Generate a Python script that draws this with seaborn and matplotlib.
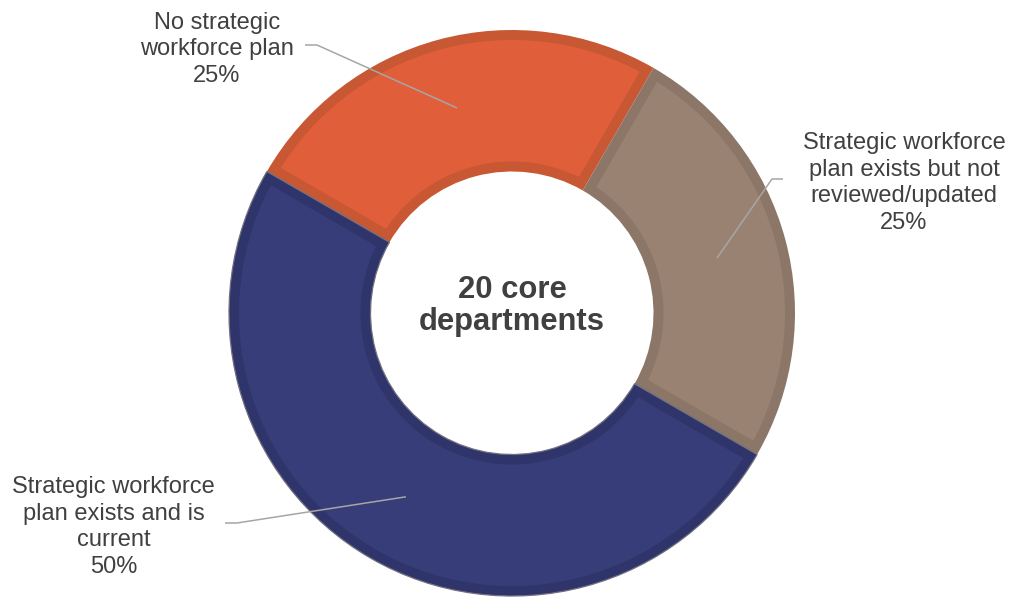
import numpy as np
import matplotlib
matplotlib.use("Agg")
import matplotlib.pyplot as plt
from matplotlib.patches import Polygon
import seaborn as sns

# ---- data ----
categories = ["No strategic\nworkforce plan",
              "Strategic workforce\nplan exists but not\nreviewed/updated",
              "Strategic workforce\nplan exists and is\ncurrent"]
shares = [25, 25, 50]
center_label = "20 core\ndepartments"

fill_colors = ["#E05E3A", "#9A8272", "#373D79"]
edge_colors = ["#C85734", "#8B7667", "#2F346A"]

sns.set_theme(style="white")
plt.rcParams['font.family'] = ['Liberation Sans', 'DejaVu Sans']

W, H = 1015, 599
fig = plt.figure(figsize=(W / 100, H / 100), dpi=100)
ax = fig.add_axes([0, 0, 1, 1])

R = 283
cx, cy = 512, H - 313
wedges, _ = ax.pie(shares, colors=edge_colors, startangle=150, counterclock=False,
                   radius=R, center=(cx, cy),
                   wedgeprops=dict(width=R * 0.5, linewidth=0))
wedges[2].set_edgecolor("#70707f")
wedges[2].set_linewidth(0.9)

# inner (inset) fill of each slice -> darker border band of b px
b = 10
for w, fc in zip(wedges, fill_colors):
    t1, t2 = np.deg2rad(w.theta1), np.deg2rad(w.theta2)
    ro, ri = w.r - b, w.r - w.width + b
    ao = np.arcsin(b / ro)
    ai = np.arcsin(b / ri)
    th_o = np.linspace(t1 + ao, t2 - ao, 200)
    th_i = np.linspace(t2 - ai, t1 + ai, 200)
    xs = np.r_[w.center[0] + ro * np.cos(th_o), w.center[0] + ri * np.cos(th_i)]
    ys = np.r_[w.center[1] + ro * np.sin(th_o), w.center[1] + ri * np.sin(th_i)]
    ax.add_patch(Polygon(np.c_[xs, ys], closed=True, facecolor=fc, edgecolor='none',
                         zorder=w.get_zorder() + 0.1))

ax.set_xlim(0, W)
ax.set_ylim(0, H)
ax.set_aspect('auto')
ax.axis('off')

# label layout (pixel positions: label center x, last baseline y, elbow x, tail x, elbow y)
label_pos = [(217, 82, 317, 305, 45),
             (904, 229, 772, 783, 179),
             (113.5, 573, 237, 225, 523)]
txt_color = "#404040"
line_color = "#A6A6A6"

for w, cat, share, (lx, ly, ex, tx, ey) in zip(wedges, categories, shares, label_pos):
    mid = np.deg2rad((w.theta1 + w.theta2) / 2)
    ax_pt = (cx + 0.75 * R * np.cos(mid), cy + 0.75 * R * np.sin(mid))
    ax.plot([ax_pt[0], ex, tx], [ax_pt[1], H - ey, H - ey], color=line_color, lw=1.1,
            solid_capstyle='butt', zorder=5)
    ax.text(lx, H - ly, f"{cat}\n{share}%", ha='center', va='baseline',
            fontsize=17, color=txt_color, linespacing=1.27, zorder=6)

ax.text(cx, H - 330, center_label, ha='center', va='baseline', fontsize=22.3,
        fontweight='bold', color="#404040", linespacing=1.1)

fig.savefig("out.png", dpi=100)
